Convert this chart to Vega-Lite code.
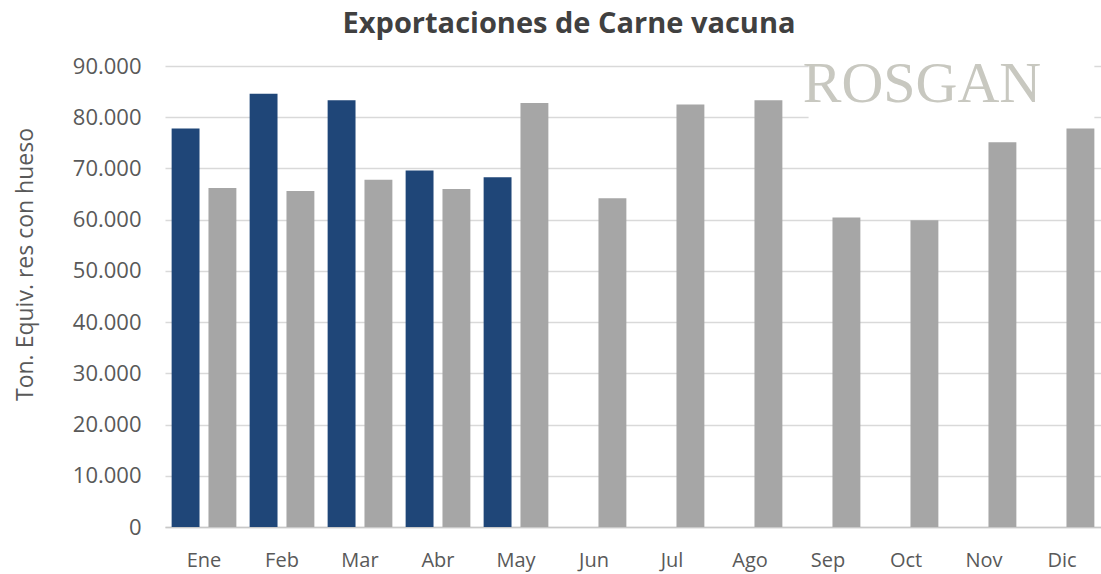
{
  "$schema": "https://vega.github.io/schema/vega-lite/v6.json",
  "width": 936,
  "height": 461,
  "autosize": {"type": "none"},
  "padding": {"left": 165, "top": 66, "right": 0, "bottom": 47},
  "background": "white",
  "title": {
    "text": "Exportaciones de Carne vacuna",
    "font": "Open Sans",
    "fontSize": 29,
    "fontWeight": "bold",
    "color": "#404040",
    "anchor": "middle",
    "dx": -64,
    "offset": 16
  },
  "config": {"view": {"stroke": null}},
  "data": {
    "values": [
      {"mes": "Ene", "serie": "actual", "valor": 77800},
      {"mes": "Ene", "serie": "anterior", "valor": 66200},
      {"mes": "Feb", "serie": "actual", "valor": 84600},
      {"mes": "Feb", "serie": "anterior", "valor": 65600},
      {"mes": "Mar", "serie": "actual", "valor": 83300},
      {"mes": "Mar", "serie": "anterior", "valor": 67800},
      {"mes": "Abr", "serie": "actual", "valor": 69600},
      {"mes": "Abr", "serie": "anterior", "valor": 66000},
      {"mes": "May", "serie": "actual", "valor": 68300},
      {"mes": "May", "serie": "anterior", "valor": 82800},
      {"mes": "Jun", "serie": "anterior", "valor": 64200},
      {"mes": "Jul", "serie": "anterior", "valor": 82500},
      {"mes": "Ago", "serie": "anterior", "valor": 83300},
      {"mes": "Sep", "serie": "anterior", "valor": 60400},
      {"mes": "Oct", "serie": "anterior", "valor": 59900},
      {"mes": "Nov", "serie": "anterior", "valor": 75100},
      {"mes": "Dic", "serie": "anterior", "valor": 77800}
    ]
  },
  "layer": [
    {
      "mark": {"type": "bar"},
      "encoding": {
        "x": {
          "field": "mes",
          "type": "nominal",
          "sort": ["Ene", "Feb", "Mar", "Abr", "May", "Jun", "Jul", "Ago", "Sep", "Oct", "Nov", "Dic"],
          "scale": {"paddingInner": 0.17, "paddingOuter": 0.085},
          "axis": {
            "title": null,
            "labelAngle": 0,
            "labelFont": "Open Sans",
            "labelFontSize": 20,
            "labelColor": "#595959",
            "labelPadding": 23,
            "ticks": false,
            "domainColor": "#c8c8c8",
            "domainWidth": 1.5,
            "grid": false
          }
        },
        "xOffset": {
          "field": "serie",
          "type": "nominal",
          "sort": ["actual", "anterior"],
          "scale": {"domain": ["actual", "anterior"], "paddingInner": 0.243, "paddingOuter": 0}
        },
        "y": {
          "field": "valor",
          "type": "quantitative",
          "scale": {"domain": [0, 90000], "nice": false},
          "axis": {
            "values": [0, 10000, 20000, 30000, 40000, 50000, 60000, 70000, 80000, 90000],
            "labelExpr": "replace(format(datum.value, ','), ',', '.')",
            "labelFont": "Open Sans",
            "labelFontSize": 22,
            "labelColor": "#595959",
            "labelPadding": 24,
            "ticks": false,
            "domain": false,
            "grid": true,
            "gridColor": "#d9d9d9",
            "gridWidth": 1.5,
            "title": "Ton. Equiv. res con hueso",
            "titleFont": "Open Sans",
            "titleFontSize": 23,
            "titleFontWeight": "normal",
            "titleColor": "#595959",
            "titleX": -140,
            "titleY": 198,
            "titleAlign": "center",
            "titleBaseline": "middle",
            "titleAngle": -90
          }
        },
        "color": {
          "field": "serie",
          "type": "nominal",
          "scale": {"domain": ["actual", "anterior"], "range": ["#1f4678", "#a6a6a6"]},
          "legend": null
        }
      }
    },
    {
      "data": {"values": [{"marca": "ROSGAN"}]},
      "mark": {"type": "rect", "color": "white"},
      "encoding": {
        "x": {"datum": "Sep", "bandPosition": 0.2},
        "x2": {"datum": "Dic", "bandPosition": 1},
        "y": {"datum": 91000},
        "y2": {"datum": 79200}
      }
    },
    {
      "data": {"values": [{"marca": "ROSGAN"}]},
      "mark": {
        "type": "text",
        "font": "Liberation Serif",
        "fontSize": 58,
        "color": "#c8c8c0",
        "baseline": "alphabetic",
        "align": "center",
        "dx": 16
      },
      "encoding": {
        "x": {"datum": "Oct"},
        "y": {"datum": 83000},
        "text": {"field": "marca"}
      }
    }
  ]
}
